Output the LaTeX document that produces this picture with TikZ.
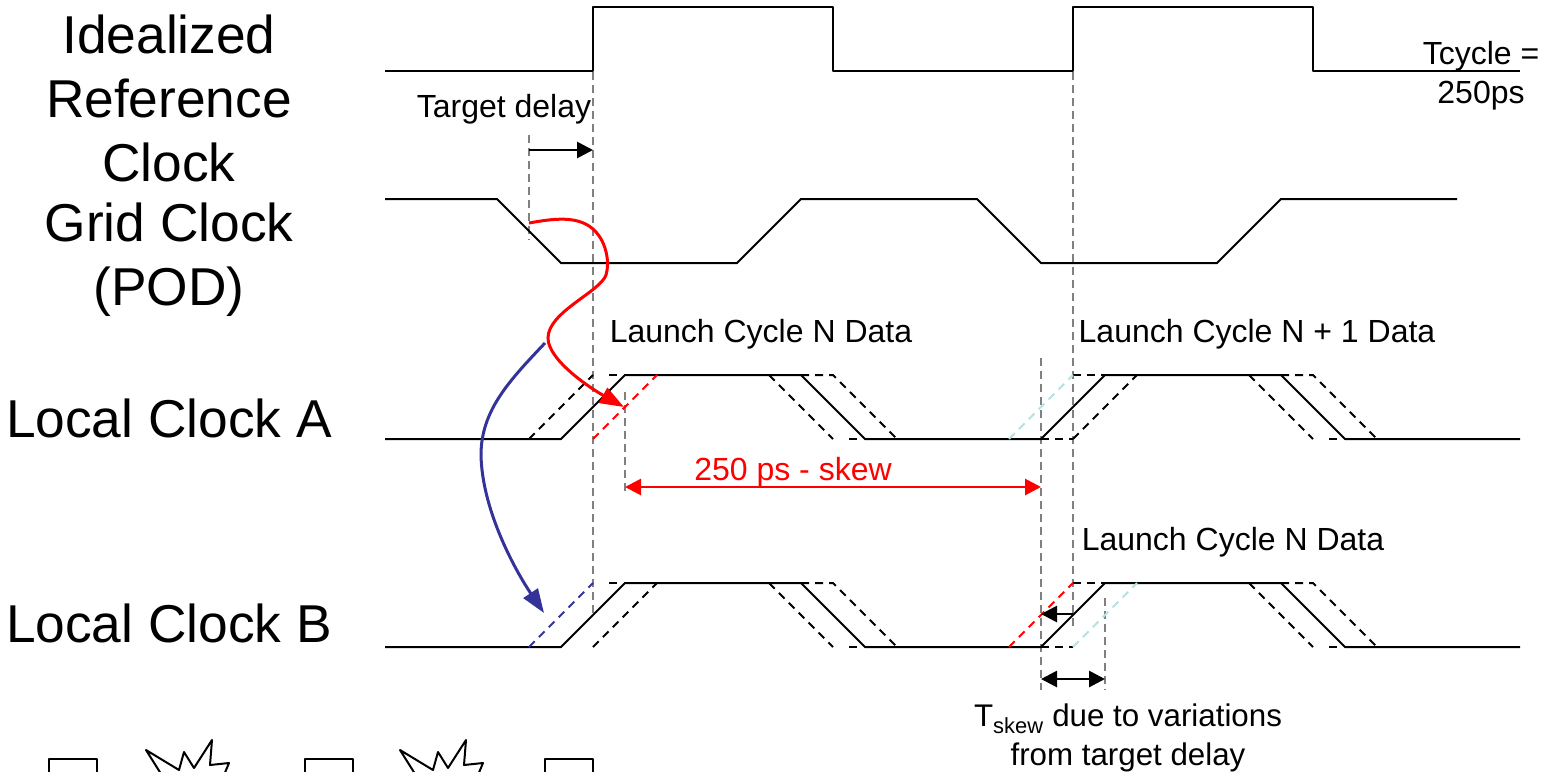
\documentclass[tikz,border=0pt]{standalone}
\usepackage{fontspec}
\setmainfont{Liberation Sans}
\usepackage{xcolor}
\usepackage{tikz}
\usetikzlibrary{arrows.meta}
\definecolor{guidegray}{RGB}{128,128,128}
\definecolor{skewblue}{RGB}{51,51,153}
\definecolor{paleteal}{RGB}{183,224,224}
\tikzset{
  wave/.style={black, line width=2pt, line join=round},
  edgedash/.style={line width=2pt, dash pattern=on 8pt off 6pt},
  guide/.style={guidegray, line width=2pt, dash pattern=on 8pt off 5pt},
  bigtext/.style={font=\fontsize{53.3}{64}\selectfont, align=center},
  smalltext/.style={font=\fontsize{32}{39}\selectfont, align=center},
  delayarrow/.style={line width=2.8pt, -{Triangle[length=16pt,width=16pt]}},
  spanarrow/.style={line width=2.8pt, {Triangle[length=16pt,width=16pt]}-{Triangle[length=16pt,width=16pt]}},
  bendarrow/.style={line width=3pt, -{Triangle[length=24pt,width=17pt]}},
}
\begin{document}
\begin{tikzpicture}[x=1pt,y=-1pt]
  \path[use as bounding box, clip] (0,0) rectangle (1552,771);
  % Guide lines
  \draw[guide] (593,7) -- (593,615);
  \draw[guide] (529,135) -- (529,240);
  \draw[guide] (625,392) -- (625,495);
  \draw[guide] (1041,358) -- (1041,690);
  \draw[guide] (1073,7) -- (1073,630);
  \draw[guide] (1105,598) -- (1105,690);
  % Idealized reference clock
  \draw[wave] (385,71) -- (593,71) -- (593,7) -- (833,7) -- (833,71) -- (1073,71) -- (1073,7) -- (1313,7) -- (1313,71) -- (1520,71);
  % Grid clock
  \draw[wave] (385,199) -- (497,199) -- (561,263) -- (737,263) -- (801,199) -- (977,199) -- (1041,263) -- (1217,263) -- (1281,199) -- (1457,199);
  % Local clocks, solid trace and the dashed edges they share
  \foreach \yhi/\ylo in {375/439, 583/647} {
    \draw[wave] (385,\ylo) -- (561,\ylo) -- (625,\yhi) -- (801,\yhi) -- (865,\ylo) -- (1041,\ylo) -- (1105,\yhi) -- (1281,\yhi) -- (1345,\ylo) -- (1520,\ylo);
    \draw[line width=2pt] (609,\yhi) -- (617,\yhi);
    \draw[edgedash] (769,\yhi) -- (833,\ylo);
    \draw[edgedash] (801,\yhi) -- (833,\yhi) -- (897,\ylo);
    \draw[line width=2pt] (849,\ylo) -- (857,\ylo);
    \draw[edgedash] (1041,\ylo) -- (1073,\ylo);
    \draw[edgedash] (1073,\yhi) -- (1105,\yhi);
    \draw[edgedash] (1249,\yhi) -- (1313,\ylo);
    \draw[edgedash] (1281,\yhi) -- (1313,\yhi) -- (1377,\ylo);
    \draw[line width=2pt] (1329,\ylo) -- (1337,\ylo);
  }
  % Local clock A edges
  \draw[edgedash] (529,439) -- (593,375);
  \draw[edgedash, red] (593,439) -- (657,375);
  \draw[edgedash, paleteal] (1009,439) -- (1073,375);
  \draw[edgedash] (1073,439) -- (1137,375);
  % Local clock B edges
  \draw[edgedash, skewblue] (529,647) -- (593,583);
  \draw[edgedash] (593,647) -- (657,583);
  \draw[edgedash, red] (1009,647) -- (1073,583);
  \draw[edgedash, paleteal] (1073,647) -- (1137,583);
  % Anchors for the arrows
  \coordinate (delayStart) at (529,150);
  \coordinate (delayEnd) at (593,150);
  \coordinate (gridEdge) at (529,223);
  \coordinate (edgeA) at (624,407);
  \coordinate (splitPoint) at (545,343);
  \coordinate (edgeB) at (544,613);
  \coordinate (periodStart) at (625,487);
  \coordinate (periodEnd) at (1041,487);
  \coordinate (earlyStart) at (1073,614);
  \coordinate (earlyEnd) at (1041,614);
  \coordinate (skewStart) at (1041,679);
  \coordinate (skewEnd) at (1105,679);
  % Arrows
  \draw[delayarrow] (delayStart) -- (delayEnd);
  \draw[delayarrow] (earlyStart) -- (earlyEnd);
  \draw[spanarrow] (skewStart) -- (skewEnd);
  \draw[spanarrow, red] (periodStart) -- (periodEnd);
  \draw[bendarrow, red] (gridEdge) .. controls (552,219) and (580,214) .. (596,232)
    .. controls (606,243) and (610,262) .. (606,275)
    .. controls (600,292) and (548,312) .. (548,338)
    .. controls (548,360) and (590,388) .. (edgeA);
  \draw[bendarrow, skewblue] (splitPoint) .. controls (510,380) and (481,410) .. (481,455)
    .. controls (482,510) and (515,570) .. (edgeB);
  % Labels
  \node[bigtext] (refLabel) at (169,98) {Idealized\\Reference\\Clock};
  \node[bigtext] (gridLabel) at (169,260) {Grid Clock\\(POD)};
  \node[bigtext] (clockALabel) at (169,418) {Local Clock A};
  \node[bigtext] (clockBLabel) at (169,623) {Local Clock B};
  \node[smalltext] (targetLabel) at (504,109) {Target delay};
  \node[smalltext] (cycleLabel) at (1481,76) {Tcycle =\\250ps};
  \node[smalltext] (launchA) at (761,334) {Launch Cycle N Data};
  \node[smalltext] (launchNext) at (1257,334) {Launch Cycle N + 1 Data};
  \node[smalltext] (launchB) at (1233,542) {Launch Cycle N Data};
  \node[smalltext, red] (periodLabel) at (793,472) {250 ps - skew};
  \node[smalltext, font=\fontsize{31.3}{39.5}\selectfont] (skewLabel) at (1128,738) {T\textsubscript{skew} due to variations\\from target delay};
  % Latches and logic clouds, cut by the lower edge
  \foreach \boxx in {49,305,545} {
    \draw[wave] (\boxx,790) -- (\boxx,759) -- (\boxx+48,759) -- (\boxx+48,790);
  }
  \foreach \cloudx in {0,254} {
    \draw[wave, shift={(\cloudx,0)}] (163,777) -- (146,750) -- (179,770) -- (184,752) -- (194,768) -- (212,740) -- (210,765) -- (229,763) -- (224,775);
  }
\end{tikzpicture}
\end{document}
